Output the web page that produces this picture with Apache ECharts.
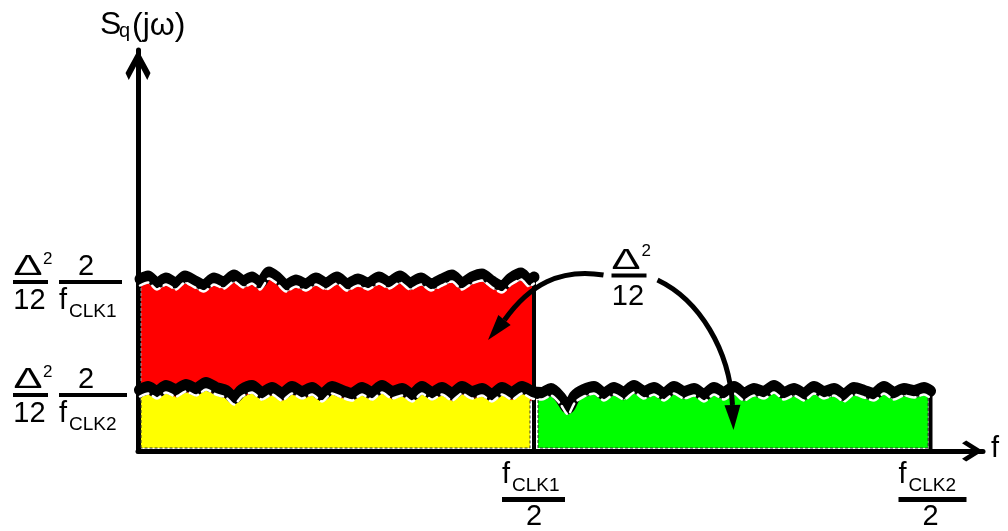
<!DOCTYPE html>
<html><head><meta charset="utf-8">
<script src="https://cdn.jsdelivr.net/npm/echarts@6/dist/echarts.min.js"></script>
<style>html,body{margin:0;padding:0;background:#fff}#c{width:1008px;height:531px}</style>
</head><body><div id="c"></div>
<script>
const FONT = '"Liberation Sans", Arial, sans-serif';
// x: frequency (fCLK1/2 at 396, fCLK2/2 at 792.5), y: noise density level
const xTickValues = [396, 792.5];
const xTickSubs = ['CLK1', 'CLK2'];
const levelValues = [169, 56];
const levelSubs = ['CLK1', 'CLK2'];
const axisTitleY = ['S', 'q', '(jω)'];
const axisTitleX = 'f';
// noisy top edge of the fCLK1 spectrum
const lvl1Edge = [[2,172],[10,175],[19,168],[28,173],[38,168],[47,175],[57,170],[66,166],[76,173],[86,169],[96,176],[105,170],[114,174],[122,168],[131,179],[139,174],[148,166],[158,171],[168,167],[178,173],[188,168],[199,174],[209,167],[220,172],[230,168],[241,174],[251,169],[262,175],[272,168],[283,173],[293,167],[304,172],[314,176],[324,168],[334,174],[344,177],[354,170],[364,165],[373,173],[383,178],[391,171],[396,174]];
// noisy top edge of the fCLK2 spectrum
const lvl2Edge = [[2,61],[10,64],[19,59],[28,65],[38,61],[48,66],[58,62],[68,68],[78,63],[88,60],[96,53],[104,61],[114,65],[124,58],[134,63],[144,57],[154,64],[164,59],[174,63],[184,56],[194,64],[204,60],[214,57],[224,63],[234,58],[244,65],[254,59],[264,62],[274,56],[284,64],[294,58],[304,63],[314,57],[324,64],[334,59],[344,62],[354,56],[364,63],[374,58],[384,64],[394,59],[404,58],[413,62],[422,54],[430,43],[437,55],[446,61],[456,64],[466,57],[476,63],[486,58],[496,65],[506,59],[516,63],[526,57],[536,64],[546,59],[556,62],[566,56],[576,63],[586,58],[596,64],[606,57],[616,62],[626,59],[636,65],[646,58],[656,62],[666,57],[676,64],[686,59],[696,62],[706,56],[716,63],[726,60],[736,57],[746,64],[756,58],[766,62],[776,60],[786,63],[792,60]];
// annotation Δ²/12 and its two arrows (bezier control points, then tip)
const noteAnchor = [491, 175.5];
const arrow1 = [[465.5,176],[421.5,183],[391.5,166],[366.5,131]];
const arrow1Tip = [350, 111];
const arrow2 = [[519.5,171],[561.5,151],[591.5,101],[594.5,46]];
const arrow2Tip = [595.5,21];

const X_MAX = 845, Y_MAX = 401;
const off = (arr, d) => arr.map(p => [p[0], p[1] + d]);
const clipX = (arr, a, b) => arr.filter(p => p[0] >= a && p[0] <= b);
const FILL_OFF = -7, DASH_OFF = -6.5;

const redPoly = [[3, 50], ...off(clipX(lvl1Edge, 2, 395), FILL_OFF).map(p => [Math.max(3, p[0]), p[1]]), [395, lvl1Edge[lvl1Edge.length-1][1] + FILL_OFF], [395, 50]];
const yTop = off(clipX(lvl2Edge, 2, 392), FILL_OFF).map(p => [Math.max(3, p[0]), p[1]]);
const yellowPoly = [[3, 3], ...yTop, [392, yTop[yTop.length-1][1]], [392, 3]];
const gTop = off(clipX(lvl2Edge, 400, 790), FILL_OFF);
const greenPoly = [[400, 3], [400, gTop[0][1]], ...gTop, [790, gTop[gTop.length-1][1]], [790, 3]];

function polySeries(points, fill, stroke) {
  return { type: 'custom', coordinateSystem: 'cartesian2d', silent: true, z: 2,
    data: [[points[0][0], points[0][1]]],
    renderItem: (params, api) => ({ type: 'polygon', shape: { points: points.map(p => api.coord(p)) },
      style: { fill: fill, stroke: stroke, lineWidth: 1, lineDash: [3, 2] } }) };
}
function T(text, x, y, size, align, sx) {
  const el = { type: 'text', style: { text: text, x: 0, y: 0, fontSize: size, fontFamily: FONT, fill: '#000', align: align || 'center', verticalAlign: 'middle' }, x: x, y: y };
  if (sx) { el.scaleX = sx; }
  return el;
}
function R(x, y, w, h) { return { type: 'rect', shape: { x: x, y: y, width: w, height: h }, style: { fill: '#000' } }; }
function lineS(data, width, color, dash, z) {
  return { type: 'line', data: data, symbol: 'none', smooth: 0.25, silent: true, z: z,
    lineStyle: { width: width, color: color, type: dash || 'solid', join: 'round', cap: 'round' } };
}
function arrowEls(api, pts, tip) {
  const c = pts.map(p => api.coord(p)); const t = api.coord(tip);
  const dx = t[0] - c[3][0], dy = t[1] - c[3][1], L = Math.hypot(dx, dy);
  const nx = -dy / L, ny = dx / L, hw = 8;
  return [
    { type: 'bezierCurve', shape: { x1: c[0][0], y1: c[0][1], cpx1: c[1][0], cpy1: c[1][1], cpx2: c[2][0], cpy2: c[2][1], x2: c[3][0], y2: c[3][1] }, style: { stroke: '#000', lineWidth: 5, fill: null } },
    { type: 'polygon', shape: { points: [t, [c[3][0] + nx * hw, c[3][1] + ny * hw], [c[3][0] - nx * hw, c[3][1] - ny * hw]] }, style: { fill: '#000' } }
  ];
}

const chart = echarts.init(document.getElementById('c'));
chart.setOption({
  animation: false,
  backgroundColor: '#fff',
  grid: { left: 138, right: 25, top: 50, bottom: 80, containLabel: false, outerBoundsMode: 'none' },
  xAxis: { type: 'value', min: 0, max: X_MAX, axisTick: { show: false }, axisLabel: { show: false }, splitLine: { show: false },
    axisLine: { show: true, lineStyle: { color: '#000', width: 5 }, symbol: ['none', 'path://M50,0 L100,80 L87,100 L50,42 L13,100 L0,80 Z'], symbolSize: [21, 21], symbolOffset: [0, -10.5] } },
  yAxis: { type: 'value', min: 0, max: Y_MAX, axisTick: { show: false }, axisLabel: { show: false }, splitLine: { show: false },
    axisLine: { show: true, lineStyle: { color: '#000', width: 5 }, symbol: ['none', 'path://M50,0 L100,92 L87,120 L50,50 L13,120 L0,92 Z'], symbolSize: [25, 30], symbolOffset: [0, -15] } },
  series: [
    polySeries(redPoly, '#ff0000', '#999999'),
    polySeries(yellowPoly, '#ffff00', '#333333'),
    polySeries(greenPoly, '#00ff00', '#333333'),
    { type: 'line', data: [[396, 0], [396, 172]], symbol: 'none', silent: true, z: 3, lineStyle: { width: 4, color: '#000' } },
    { type: 'line', data: [[792.5, 0], [792.5, 60]], symbol: 'none', silent: true, z: 3, lineStyle: { width: 4, color: '#000' } },
    lineS(lvl1Edge, 11, '#000', 'solid', 4),
    lineS(lvl2Edge, 12, '#000', 'solid', 4),
    lineS(off(lvl1Edge, DASH_OFF), 2.5, '#fff', [9, 5], 5),
    lineS(off(lvl2Edge, DASH_OFF), 2.5, '#fff', [9, 5], 5),
    { type: 'custom', coordinateSystem: 'cartesian2d', silent: true, z: 6,
      data: levelValues.map(v => [0, v]),
      renderItem: (params, api) => {
        const i = params.dataIndex; const p = api.coord([0, levelValues[i]]);
        const x = p[0], by = p[1];
        return { type: 'group', children: [
          T('Δ', x - 110, by - 15, 30, 'center', 1.45), T('2', x - 95, by - 23, 17, 'left'), R(x - 125, by - 2, 35, 4), T('12', x - 108.5, by + 19, 29),
          T('2', x - 52, by - 15, 29), R(x - 79, by - 2, i === 0 ? 63 : 68, 4), T('f', x - 79, by + 19, 29, 'left'), T(levelSubs[i], x - 69, by + 29.5, 19, 'left')
        ] };
      } },
    { type: 'custom', coordinateSystem: 'cartesian2d', silent: true, z: 6,
      data: xTickValues.map(v => [v, 0]),
      renderItem: (params, api) => {
        const i = params.dataIndex; const p = api.coord([xTickValues[i], 0]);
        const x = p[0], y = p[1];
        return { type: 'group', children: [
          T('f', x - 32, y + 24, 29, 'left'), T(xTickSubs[i], x - 22, y + 34.5, 19, 'left'), R(x - 32, y + 46, i === 0 ? 63 : 68, 5), T('2', x, y + 65.5, 29)
        ] };
      } },
    { type: 'custom', coordinateSystem: 'cartesian2d', silent: true, z: 6,
      data: [[X_MAX, 0], [0, Y_MAX]],
      renderItem: (params, api) => {
        if (params.dataIndex === 0) { const p = api.coord([X_MAX, 0]); return T(axisTitleX, p[0] + 12, p[1] - 2, 29); }
        const p = api.coord([0, Y_MAX]);
        return { type: 'group', children: [
          T(axisTitleY[0], p[0] - 38, p[1] - 25, 32, 'left'), T(axisTitleY[1], p[0] - 19, p[1] - 19, 20, 'left'), T(axisTitleY[2], p[0] - 6, p[1] - 24, 32, 'left')
        ] };
      } },
    { type: 'custom', coordinateSystem: 'cartesian2d', silent: true, z: 7,
      data: [noteAnchor],
      renderItem: (params, api) => {
        const p = api.coord(noteAnchor); const x = p[0], y = p[1];
        return { type: 'group', children: [
          T('Δ', x - 3, y - 14.5, 30, 'center', 1.45), T('2', x + 12.5, y - 24.5, 17, 'left'), R(x - 17.5, y - 2, 35, 4), T('12', x - 1, y + 21, 29),
          ...arrowEls(api, arrow1, arrow1Tip), ...arrowEls(api, arrow2, arrow2Tip)
        ] };
      } }
  ]
});
</script></body></html>
